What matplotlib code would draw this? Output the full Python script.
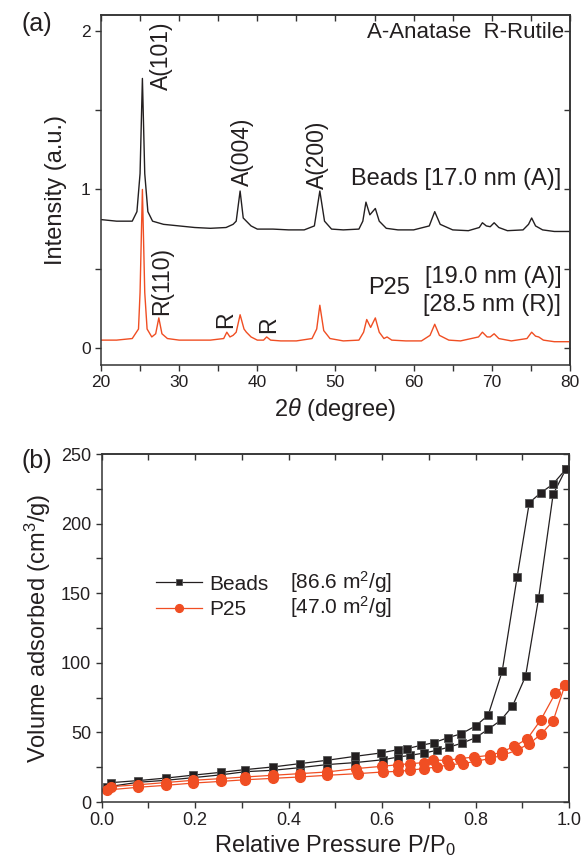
import numpy as np
import matplotlib
matplotlib.use("Agg")
import matplotlib.pyplot as plt
from matplotlib.ticker import MultipleLocator

plt.rcParams['font.family'] = ['Liberation Sans', 'DejaVu Sans']
plt.rcParams['mathtext.fontset'] = 'custom'
plt.rcParams['mathtext.rm'] = 'Liberation Sans'
plt.rcParams['mathtext.it'] = 'Liberation Sans:italic'

BLACK = '#231f20'
ORANGE = '#f04e23'
TXT = '#231f20'

# ---------------- (a) XRD ----------------
beads_2theta = [20, 22, 24, 24.6, 25.0, 25.3, 25.6, 26.0, 26.6, 28, 30, 32, 34, 36, 36.9, 37.3,
                37.8, 38.2, 38.6, 39.2, 40, 42, 44, 46, 47.3, 48.0, 48.6, 49.5, 51, 53, 53.5,
                53.9, 54.4, 55.1, 55.6, 56.5, 58, 60, 62, 62.7, 63.4, 65, 67, 68.4, 68.8, 69.3,
                69.8, 70.3, 70.9, 72, 74, 74.7, 75.1, 75.6, 76.5, 78, 80]
beads_int = [0.81, 0.80, 0.80, 0.86, 1.10, 1.70, 1.10, 0.86, 0.80, 0.78, 0.77, 0.76, 0.755, 0.76,
             0.78, 0.80, 0.99, 0.82, 0.80, 0.77, 0.75, 0.75, 0.745, 0.745, 0.77, 0.99, 0.80, 0.75,
             0.745, 0.75, 0.80, 0.92, 0.84, 0.88, 0.80, 0.755, 0.745, 0.745, 0.77, 0.86, 0.78,
             0.745, 0.74, 0.76, 0.79, 0.77, 0.765, 0.79, 0.76, 0.74, 0.745, 0.78, 0.82, 0.77,
             0.745, 0.735, 0.735]

p25_2theta = [20, 22, 24, 24.8, 25.0, 25.3, 25.6, 25.9, 26.5, 27.0, 27.4, 27.8, 28.5, 30, 32, 34,
              35.7, 36.1, 36.5, 36.9, 37.3, 37.8, 38.3, 38.6, 39.2, 40, 40.8, 41.2, 41.7, 43, 45,
              47.0, 47.6, 48.0, 48.5, 49.3, 51, 53, 53.6, 54.0, 54.5, 55.1, 55.6, 56.2, 56.6, 57.2,
              59, 61, 62.1, 62.7, 63.3, 64.5, 66, 68.3, 68.8, 69.4, 69.8, 70.3, 70.9, 72.5, 74.5,
              75.1, 75.6, 76.0, 76.6, 78, 80]
p25_int = [0.05, 0.05, 0.06, 0.12, 0.35, 1.0, 0.35, 0.12, 0.07, 0.09, 0.19, 0.09, 0.06, 0.05,
           0.05, 0.05, 0.06, 0.10, 0.07, 0.08, 0.10, 0.21, 0.12, 0.10, 0.07, 0.05, 0.05, 0.07,
           0.05, 0.045, 0.045, 0.06, 0.12, 0.27, 0.11, 0.06, 0.045, 0.05, 0.10, 0.18, 0.13, 0.19,
           0.10, 0.06, 0.07, 0.05, 0.045, 0.045, 0.08, 0.15, 0.08, 0.05, 0.045, 0.07, 0.10, 0.07,
           0.07, 0.09, 0.06, 0.045, 0.06, 0.10, 0.075, 0.07, 0.05, 0.04, 0.04]

peak_labels = ['A(101)', 'A(004)', 'A(200)', 'R(110)', 'R', 'R']
peak_label_x = [27.7, 38.1, 47.7, 27.7, 35.9, 41.4]
peak_label_y = [1.63, 1.02, 1.00, 0.21, 0.125, 0.095]

# ---------------- (b) N2 isotherms ----------------
beads_ads_p = [0.011, 0.079, 0.138, 0.196, 0.255, 0.308, 0.367, 0.425, 0.483, 0.542, 0.603, 0.634,
               0.660, 0.690, 0.717, 0.744, 0.772, 0.800, 0.827, 0.854, 0.879, 0.907, 0.935, 0.966, 0.993]
beads_ads_v = [10.8, 14.2, 15.6, 17.5, 19.5, 21.8, 22.8, 24.7, 26.9, 28.3, 30.4, 32.3,
               33.5, 35.2, 37.1, 39.5, 42.4, 46.2, 52.2, 58.7, 68.8, 90.3, 146.6, 221.0, 239.0]
beads_des_p = [0.993, 0.965, 0.939, 0.915, 0.889, 0.857, 0.827, 0.800, 0.770, 0.741, 0.711, 0.683,
               0.653, 0.634, 0.597, 0.542, 0.483, 0.425, 0.367, 0.308, 0.255, 0.196, 0.138, 0.079, 0.020]
beads_des_v = [239.0, 228.2, 222.0, 215.0, 161.6, 93.9, 62.3, 54.6, 49.1, 46.2, 42.6, 40.7,
               38.3, 37.6, 35.2, 32.8, 30.0, 27.6, 25.2, 23.3, 21.3, 19.3, 17.2, 15.4, 13.9]

p25_ads_p = [0.011, 0.079, 0.138, 0.196, 0.255, 0.308, 0.367, 0.425, 0.483, 0.549, 0.603, 0.634,
             0.660, 0.689, 0.717, 0.744, 0.773, 0.800, 0.830, 0.857, 0.888, 0.915, 0.940, 0.966, 0.991]
p25_ads_v = [8.6, 10.6, 12.0, 13.6, 14.8, 16.0, 17.0, 18.0, 19.2, 20.4, 21.6, 22.0,
             22.8, 24.0, 25.1, 26.8, 27.6, 29.2, 31.2, 33.5, 37.1, 42.0, 48.6, 58.2, 83.8]
p25_des_p = [0.991, 0.971, 0.940, 0.911, 0.883, 0.856, 0.830, 0.797, 0.767, 0.739, 0.710, 0.689,
             0.660, 0.634, 0.599, 0.544, 0.483, 0.425, 0.367, 0.308, 0.255, 0.196, 0.138, 0.079, 0.020]
p25_des_v = [83.8, 78.3, 59.2, 45.5, 40.0, 35.9, 33.5, 32.3, 31.2, 30.0, 30.0, 28.3,
             27.5, 26.8, 25.6, 24.0, 21.6, 20.4, 19.2, 18.0, 16.8, 15.6, 14.0, 12.4, 11.0]

bet_labels = ['[86.6 m$^2$/g]', '[47.0 m$^2$/g]']
bet_label_y = [158, 140]


def mirror_ticks(ax):
    # Origin style: outward ticks on left/bottom, inward ticks on top/right
    ax.tick_params(which='both', direction='out', length=4, width=1, colors='#333333',
                   labelcolor=TXT)
    top = ax.secondary_xaxis('top')
    top.xaxis.set_major_locator(ax.xaxis.get_major_locator())
    top.xaxis.set_minor_locator(ax.xaxis.get_minor_locator())
    top.tick_params(which='both', direction='in', length=4, width=1, labeltop=False,
                    colors='#333333')
    right = ax.secondary_yaxis('right')
    right.yaxis.set_major_locator(ax.yaxis.get_major_locator())
    right.yaxis.set_minor_locator(ax.yaxis.get_minor_locator())
    right.tick_params(which='both', direction='in', length=4, width=1, labelright=False,
                      colors='#333333')
    for sp in list(ax.spines.values()) + [top.spines['top'], right.spines['right']]:
        sp.set_color('#333333')
        sp.set_linewidth(1.1)


fig = plt.figure(figsize=(5.82, 8.66), dpi=100)

# ---- (a) ----
ax1 = fig.add_axes([0.1735, 0.5785, 0.8058, 0.4042])
ax1.plot(beads_2theta, beads_int, color=BLACK, lw=1.0)
ax1.plot(p25_2theta, p25_int, color=ORANGE, lw=1.0)
ax1.set_xlim(20, 80)
ax1.set_ylim(-0.107, 2.1)
ax1.xaxis.set_major_locator(MultipleLocator(10))
ax1.xaxis.set_minor_locator(MultipleLocator(5))
ax1.yaxis.set_major_locator(MultipleLocator(1))
ax1.yaxis.set_minor_locator(MultipleLocator(0.5))
mirror_ticks(ax1)
ax1.tick_params(labelsize=12.5)
ax1.set_xlabel(r'2$\it{\theta}$ (degree)', fontsize=17, color=TXT, labelpad=4)
ax1.set_ylabel('Intensity (a.u.)', fontsize=17, color=TXT, labelpad=10)

for s, x, y in zip(peak_labels, peak_label_x, peak_label_y):
    ax1.text(x, y, s, rotation=90, ha='center', va='bottom', fontsize=16.5, color=TXT)

ax1.text(79.3, 1.99, 'A-Anatase  R-Rutile', ha='right', va='center', fontsize=16, color=TXT)
ax1.text(78.9, 1.066, 'Beads [17.0 nm (A)]', ha='right', va='center', fontsize=17, color=TXT)
ax1.text(78.9, 0.45, '[19.0 nm (A)]', ha='right', va='center', fontsize=17, color=TXT)
ax1.text(78.9, 0.27, '[28.5 nm (R)]', ha='right', va='center', fontsize=17, color=TXT)
ax1.text(56.8, 0.378, 'P25', ha='center', va='center', fontsize=17, color=TXT)

fig.text(37 / 582, 1 - 24 / 866, '(a)', ha='center', va='center', fontsize=18, color=TXT)

# ---- (b) ----
ax2 = fig.add_axes([0.1744, 0.0739, 0.8033, 0.4018])
ax2.plot(beads_ads_p, beads_ads_v, color=BLACK, lw=0.9, marker='s', ms=6,
         mfc=BLACK, mec='#555555', mew=0.6, label='Beads')
ax2.plot(beads_des_p, beads_des_v, color=BLACK, lw=0.9, marker='s', ms=6,
         mfc=BLACK, mec='#555555', mew=0.6)
ax2.plot(p25_ads_p, p25_ads_v, color=ORANGE, lw=0.9, marker='o', ms=7,
         mfc=ORANGE, mec=ORANGE, label='P25')
ax2.plot(p25_des_p, p25_des_v, color=ORANGE, lw=0.9, marker='o', ms=7,
         mfc=ORANGE, mec=ORANGE)
ax2.set_xlim(0, 1.0)
ax2.set_ylim(0, 250)
ax2.xaxis.set_major_locator(MultipleLocator(0.2))
ax2.xaxis.set_minor_locator(MultipleLocator(0.1))
ax2.yaxis.set_major_locator(MultipleLocator(50))
ax2.yaxis.set_minor_locator(MultipleLocator(25))
mirror_ticks(ax2)
ax2.tick_params(labelsize=13)
ax2.set_xlabel('Relative Pressure P/P$_0$', fontsize=17, color=TXT, labelpad=3)
ax2.set_ylabel('Volume adsorbed (cm$^3$/g)', fontsize=17, color=TXT, labelpad=6)

leg = ax2.legend(loc='center left', bbox_to_anchor=(0.077, 0.59), frameon=False,
                 fontsize=15, handlelength=2.2, handletextpad=0.35, labelspacing=0.3,
                 markerscale=0.8)
for t in leg.get_texts():
    t.set_color(TXT)
for s, y in zip(bet_labels, bet_label_y):
    ax2.text(0.403, y, s, ha='left', va='center', fontsize=15, color=TXT)

fig.text(37 / 582, 1 - 461 / 866, '(b)', ha='center', va='center', fontsize=18, color=TXT)

fig.savefig('out.png', dpi=100)
